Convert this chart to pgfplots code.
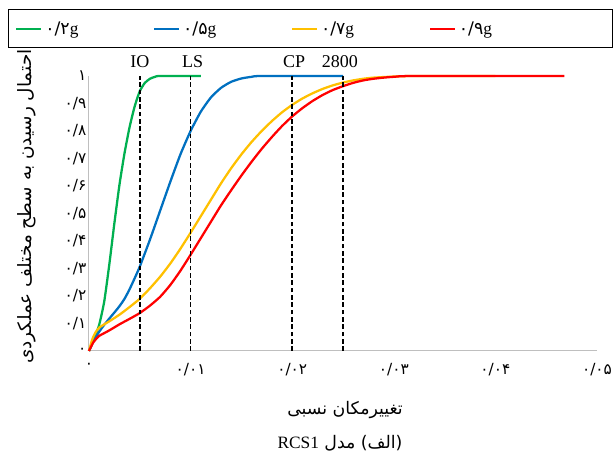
\documentclass[border=0pt]{standalone}
\usepackage{fontspec}
\usepackage{pgfplots}
\pgfplotsset{compat=1.18}
\setmainfont{Liberation Serif}
\newfontfamily\fa[Script=Arabic]{DejaVu Sans}
\TeXXeTstate=1
\definecolor{cgreen}{RGB}{0,176,80}
\definecolor{cblue}{RGB}{0,112,192}
\definecolor{cyellow}{RGB}{255,192,0}
\definecolor{cred}{RGB}{255,0,0}
\begin{document}
\begin{tikzpicture}[x=1pt,y=1pt]
\path[use as bounding box] (0,0) rectangle (462,342);
\draw[black, line width=0.75pt] (6,306) rectangle (459,334.5);
\begin{axis}[
  scale only axis, width=381pt, height=206.25pt,
  at={(66.75pt,78.75pt)}, anchor=south west,
  xmin=0, xmax=0.05, ymin=0, ymax=1,
  axis lines=left, axis line style={draw=black!25, line width=0.75pt, -},
  major tick length=0pt,
  clip=false,
  scaled x ticks=false,
  xtick={0,0.01,0.02,0.03,0.04,0.05},
  xticklabels={۰,۰/۰۱,۰/۰۲,۰/۰۳,۰/۰۴,۰/۰۵},
  ytick={0,0.1,0.2,0.3,0.4,0.5,0.6,0.7,0.8,0.9,1},
  yticklabels={۰,۰/۱,۰/۲,۰/۳,۰/۴,۰/۵,۰/۶,۰/۷,۰/۸,۰/۹,۱},
  ticklabel style={font=\fa\fontsize{11.5}{11.5}\selectfont},
  xticklabel style={yshift=-6pt},
  yticklabel style={xshift=1.5pt},
  xlabel={\fa\beginR تغییرمکان نسبی\endR},
  xlabel style={at={(axis description cs:0.504,-0.2145)}, anchor=center, font=\fontsize{13}{13}\selectfont},
  ylabel={\fa\beginR احتمال رسیدن به سطح مختلف عملکردی\endR},
  ylabel style={at={(axis description cs:-0.122,0.525)}, anchor=center, rotate=0, font=\fontsize{13.8}{13.8}\selectfont},
  legend columns=4,
  legend style={at={(axis description cs:-0.1457,1.171)}, anchor=west, draw=none, fill=none,
    inner sep=0pt, font=\fontsize{13}{13}\selectfont,
    /tikz/every even column/.append style={column sep=54pt}},
  legend image code/.code={\draw[#1, line width=1.8pt] (0pt,0pt) -- (18.75pt,0pt);},
  every axis plot/.append style={smooth, tension=0.35, line width=1.7pt},
]
\addplot[cgreen] coordinates {
(0,0) (0.0005,0.045) (0.001,0.095) (0.0015,0.18) (0.002,0.315) (0.0025,0.465) (0.003,0.605) (0.0035,0.72) (0.004,0.815) (0.0045,0.89) (0.005,0.945) (0.0055,0.975) (0.006,0.99) (0.0065,0.997) (0.007,1) (0.011,1)};
\addlegendentry{{\fa ۰/۲}g}
\addplot[cblue] coordinates {
(0,0) (0.0005,0.04) (0.001,0.07) (0.0015,0.095) (0.002,0.118) (0.0025,0.14) (0.003,0.163) (0.0035,0.19) (0.004,0.225) (0.0045,0.265) (0.005,0.307) (0.006,0.405) (0.007,0.51) (0.008,0.615) (0.009,0.715) (0.01,0.80) (0.011,0.87) (0.012,0.922) (0.013,0.957) (0.014,0.979) (0.015,0.991) (0.016,0.997) (0.017,1) (0.025,1)};
\addlegendentry{{\fa ۰/۵}g}
\addplot[cyellow] coordinates {
(0,0) (0.0003,0.04) (0.0006,0.065) (0.001,0.085) (0.002,0.108) (0.003,0.132) (0.004,0.16) (0.005,0.19) (0.006,0.228) (0.007,0.27) (0.008,0.318) (0.009,0.372) (0.01,0.43) (0.011,0.49) (0.012,0.55) (0.013,0.61) (0.014,0.665) (0.015,0.715) (0.016,0.76) (0.017,0.80) (0.018,0.836) (0.019,0.868) (0.02,0.895) (0.021,0.918) (0.022,0.937) (0.023,0.953) (0.024,0.966) (0.025,0.976) (0.026,0.984) (0.027,0.99) (0.028,0.994) (0.03,0.998) (0.032,1) (0.04,1)};
\addlegendentry{{\fa ۰/۷}g}
\addplot[cred] coordinates {
(0,0) (0.0004,0.03) (0.0008,0.048) (0.001,0.055) (0.002,0.075) (0.003,0.097) (0.004,0.117) (0.005,0.138) (0.006,0.165) (0.007,0.197) (0.008,0.24) (0.009,0.292) (0.01,0.35) (0.011,0.41) (0.012,0.47) (0.013,0.53) (0.014,0.585) (0.015,0.638) (0.016,0.688) (0.017,0.735) (0.018,0.778) (0.019,0.818) (0.02,0.853) (0.021,0.883) (0.022,0.909) (0.023,0.931) (0.024,0.949) (0.025,0.963) (0.026,0.975) (0.027,0.984) (0.028,0.99) (0.029,0.994) (0.03,0.997) (0.032,1) (0.0468,1)};
\addlegendentry{{\fa ۰/۹}g}
\addplot[black, line width=1.3pt, sharp plot, dash pattern=on 3.5pt off 2pt, forget plot] coordinates {(0.005,0) (0.005,1)};
\addplot[black, line width=1.3pt, sharp plot, dash pattern=on 3.5pt off 2pt, forget plot] coordinates {(0.01,0) (0.01,1)};
\addplot[black, line width=1.3pt, sharp plot, dash pattern=on 3.5pt off 2pt, forget plot] coordinates {(0.02,0) (0.02,1)};
\addplot[black, line width=1.3pt, sharp plot, dash pattern=on 3.5pt off 2pt, forget plot] coordinates {(0.025,0) (0.025,1)};
\node[font=\fontsize{13.5}{13.5}\selectfont] at (axis cs:0.005,1.051) {IO};
\node[font=\fontsize{13.5}{13.5}\selectfont] at (axis cs:0.0102,1.051) {LS};
\node[font=\fontsize{13.5}{13.5}\selectfont] at (axis cs:0.0202,1.051) {CP};
\node[font=\fontsize{13.5}{13.5}\selectfont] at (axis cs:0.0247,1.051) {2800};
\end{axis}
\node[font=\fontsize{13}{13}\selectfont] at (255,9.75) {\fa\beginR (الف) مدل \beginL{\rmfamily RCS1}\endL\endR};
\end{tikzpicture}
\end{document}
